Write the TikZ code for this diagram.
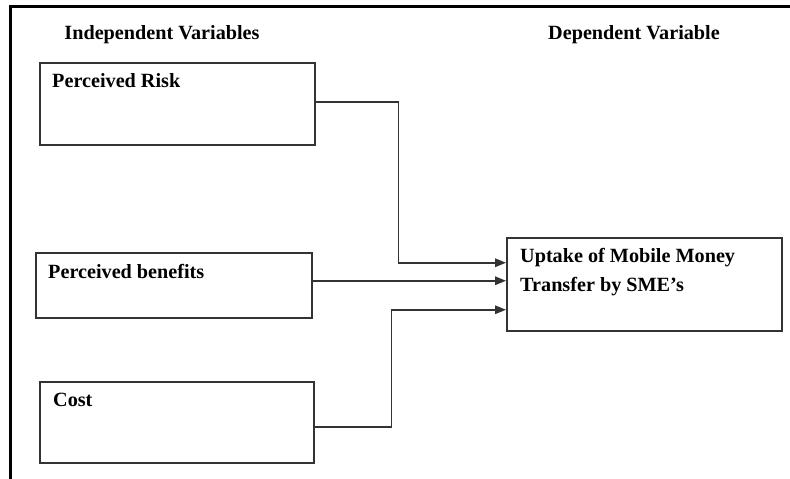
\documentclass[tikz,border=0pt]{standalone}
\usepackage{fontspec}
\setmainfont{Liberation Serif}
\usetikzlibrary{arrows.meta}
\begin{document}
\begin{tikzpicture}[x=1pt,y=-1pt,
  varbox/.style={draw=black!80,line width=1.5pt,rectangle,inner sep=0pt,anchor=north west},
  heading/.style={font=\fontsize{20.2}{22}\selectfont\bfseries,inner sep=0pt,anchor=base},
  boxtext/.style={font=\fontsize{20.2}{22}\selectfont\bfseries,inner sep=0pt,anchor=base west},
  link/.style={draw=black!80,line width=1.5pt,-{Triangle[length=11pt,width=8.5pt]}}]
  \useasboundingbox (0,0) rectangle (790,479);
  % page frame: top and left rules
  \draw[line width=3pt,line cap=rect] (790,6) -- (10,6) -- (10,482);
  % column headings
  \node[heading] (indep) at (162,39) {Independent Variables};
  \node[heading] (dep) at (634,39) {Dependent Variable};
  % independent variable boxes
  \node[varbox,minimum width=275pt,minimum height=82pt] (risk) at (39,62) {};
  \node[boxtext] (risklbl) at (52,87) {Perceived Risk};
  \node[varbox,minimum width=276pt,minimum height=65pt] (benefit) at (35,252) {};
  \node[boxtext] (benefitlbl) at (48,278) {Perceived benefits};
  \node[varbox,minimum width=274pt,minimum height=81pt] (cost) at (39,381) {};
  \node[boxtext] (costlbl) at (53,406) {Cost};
  % dependent variable box
  \node[varbox,minimum width=275pt,minimum height=93pt] (uptake) at (506,237) {};
  \node[boxtext] (uptakelbl1) at (520,262) {Uptake of Mobile Money};
  \node[boxtext] (uptakelbl2) at (520,291) {Transfer by SME's};
  % connectors into the dependent variable
  \coordinate (inA) at ([yshift=21.5pt]uptake.west);
  \coordinate (inB) at ([yshift=3.5pt]uptake.west);
  \coordinate (inC) at ([yshift=-25.5pt]uptake.west);
  \draw[link] ([yshift=2pt]risk.east) -- ++(83,0) |- (inA);
  \draw[link] ([yshift=4.5pt]benefit.east) -- (inB);
  \draw[link] ([yshift=-4.5pt]cost.east) -- ++(77,0) |- (inC);
\end{tikzpicture}
\end{document}
